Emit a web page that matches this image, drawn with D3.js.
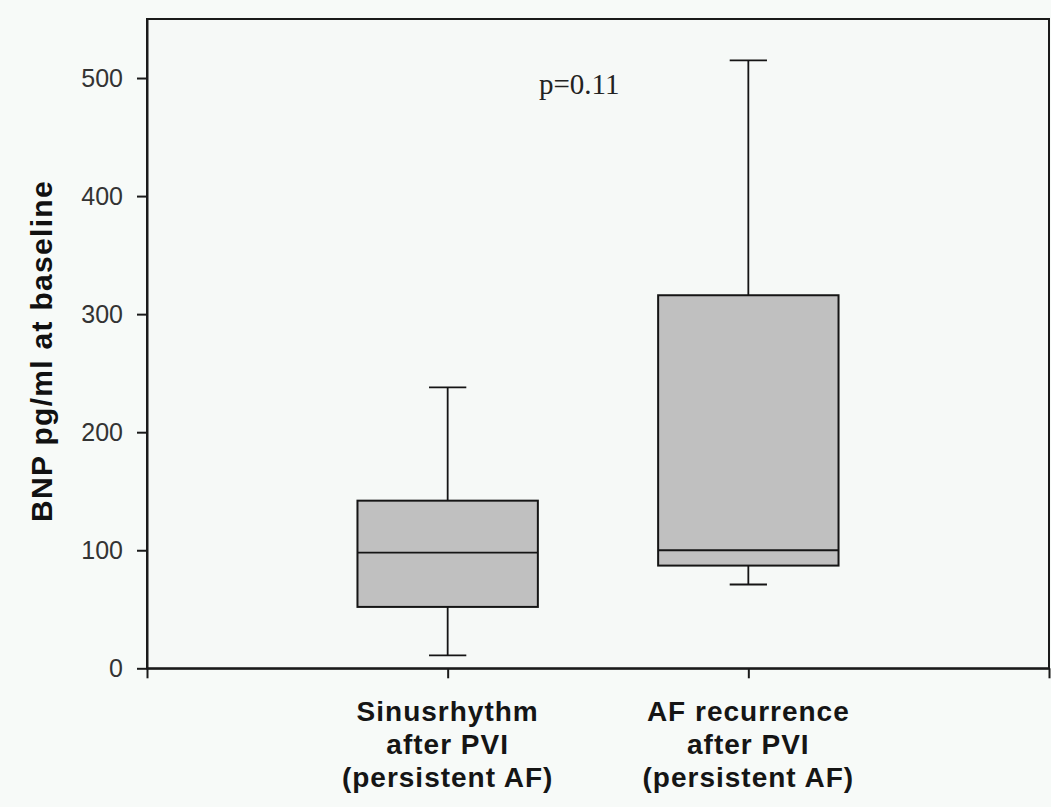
<!DOCTYPE html>
<html>
<head>
<meta charset="utf-8">
<script src="https://cdn.jsdelivr.net/npm/d3@7"></script>
<style>
  html, body { margin: 0; padding: 0; background: #f7faf8; }
  svg { display: block; }
</style>
</head>
<body>
<svg id="chart" width="1051" height="807"></svg>
<script>
// ---- data ----
const categories = [
  ["Sinusrhythm", "after PVI", "(persistent AF)"],
  ["AF recurrence", "after PVI", "(persistent AF)"]
];
const whiskerLow  = [11, 71];
const q1          = [52, 87];
const median      = [98, 100];
const q3          = [142, 316];
const whiskerHigh = [238, 515];
const yTicks = [0, 100, 200, 300, 400, 500];
const yLabel = "BNP pg/ml at baseline";
const pText = "p=0.11";

// ---- layout ----
const mLeft = 147, mRight = 1049, mTop = 19, mBottom = 668.3;
const svg = d3.select("#chart");

const x = d3.scaleLinear().domain([0, 3]).range([mLeft, mRight]);
const y = d3.scaleLinear().domain([0, 550]).range([mBottom, mTop]);

const boxHalf = 0.3, capHalf = 0.062;

// frame
svg.append("rect")
  .attr("x", mLeft).attr("y", mTop)
  .attr("width", mRight - mLeft).attr("height", mBottom - mTop)
  .attr("fill", "#f6f9f7")
  .attr("stroke", "#1a1a1a").attr("stroke-width", 2);

// boxes
const data = categories.map((c, i) => ({
  pos: i + 1, lo: whiskerLow[i], q1: q1[i], med: median[i], q3: q3[i], hi: whiskerHigh[i]
}));

const g = svg.append("g");
const lineStyle = sel => sel.attr("stroke", "#151515").attr("stroke-width", 1.8).attr("fill", "none");

data.forEach(d => {
  g.append("line").attr("x1", x(d.pos)).attr("x2", x(d.pos))
    .attr("y1", y(d.q3)).attr("y2", y(d.hi)).call(lineStyle);
  g.append("line").attr("x1", x(d.pos)).attr("x2", x(d.pos))
    .attr("y1", y(d.q1)).attr("y2", y(d.lo)).call(lineStyle);
  g.append("line").attr("x1", x(d.pos - capHalf)).attr("x2", x(d.pos + capHalf))
    .attr("y1", y(d.hi)).attr("y2", y(d.hi)).call(lineStyle);
  g.append("line").attr("x1", x(d.pos - capHalf)).attr("x2", x(d.pos + capHalf))
    .attr("y1", y(d.lo)).attr("y2", y(d.lo)).call(lineStyle);
  g.append("rect")
    .attr("x", x(d.pos - boxHalf)).attr("y", y(d.q3))
    .attr("width", x(d.pos + boxHalf) - x(d.pos - boxHalf))
    .attr("height", y(d.q1) - y(d.q3))
    .attr("fill", "#c0c0c0").attr("stroke", "#151515").attr("stroke-width", 2);
  g.append("line").attr("x1", x(d.pos - boxHalf)).attr("x2", x(d.pos + boxHalf))
    .attr("y1", y(d.med)).attr("y2", y(d.med)).call(lineStyle);
});

// y axis
const yAxis = svg.append("g")
  .attr("transform", `translate(${mLeft},0)`)
  .call(d3.axisLeft(y).tickValues(yTicks).tickSize(10).tickSizeOuter(0).tickPadding(14));
yAxis.select(".domain").attr("stroke", "#1a1a1a").attr("stroke-width", 2);
yAxis.selectAll(".tick line").attr("stroke", "#1a1a1a").attr("stroke-width", 2);
yAxis.selectAll(".tick text")
  .attr("font-family", "'Liberation Sans', Arial, sans-serif")
  .attr("font-size", 25).attr("fill", "#333");

// x axis
const xAxis = svg.append("g")
  .attr("transform", `translate(0,${mBottom})`)
  .call(d3.axisBottom(x).tickValues([0, 1, 2, 3]).tickSize(10).tickSizeOuter(0).tickFormat(""));
xAxis.select(".domain").attr("stroke", "#1a1a1a").attr("stroke-width", 2);
xAxis.selectAll(".tick line").attr("stroke", "#1a1a1a").attr("stroke-width", 2);

// category labels
categories.forEach((lines, i) => {
  const t = svg.append("text")
    .attr("x", x(i + 1)).attr("y", 721)
    .attr("text-anchor", "middle")
    .attr("font-family", "'Liberation Sans', Arial, sans-serif")
    .attr("font-weight", "bold").attr("font-size", 28)
    .attr("letter-spacing", 1)
    .attr("fill", "#151515");
  lines.forEach((ln, j) => {
    t.append("tspan").attr("x", x(i + 1)).attr("dy", j === 0 ? 0 : 33).text(ln);
  });
});

// y label
svg.append("text")
  .attr("transform", `translate(52,351) rotate(-90)`)
  .attr("text-anchor", "middle")
  .attr("font-family", "'Liberation Sans', Arial, sans-serif")
  .attr("font-weight", "bold").attr("font-size", 30)
  .attr("letter-spacing", 1.3)
  .attr("fill", "#111")
  .text(yLabel);

// p value
svg.append("text")
  .attr("x", 539).attr("y", 94)
  .attr("font-family", "'Liberation Serif', 'Times New Roman', serif")
  .attr("font-size", 29).attr("fill", "#222")
  .text(pText);
</script>
</body>
</html>
